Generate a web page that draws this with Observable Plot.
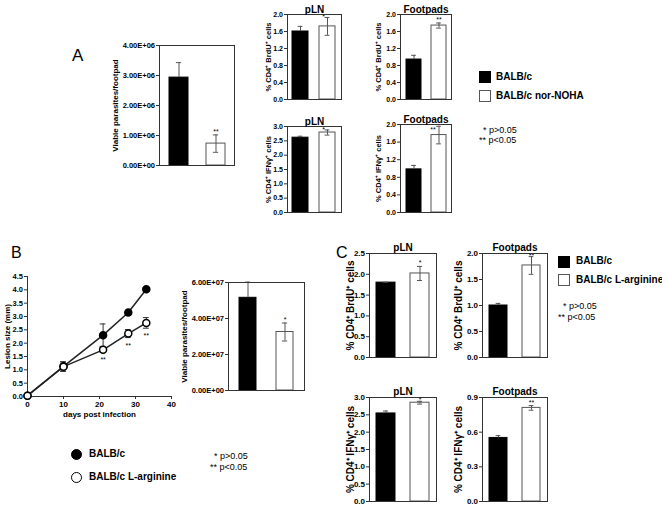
<!DOCTYPE html>
<html><head><meta charset="utf-8">
<script src="https://cdn.jsdelivr.net/npm/d3@7"></script>
<script src="https://cdn.jsdelivr.net/npm/@observablehq/plot@0.6"></script>
<style>
body{margin:0;background:#fff;}
#fig{position:relative;width:662px;height:509px;overflow:hidden;font-family:"Liberation Sans",Arial,Helvetica,sans-serif;color:#000;}
.t{position:absolute;white-space:nowrap;line-height:1;}
.b{font-weight:bold;}
.sw{position:absolute;box-sizing:border-box;}
svg{overflow:visible;}
</style></head><body><div id="fig"></div>
<script>
// ---------- data ----------
const groupsA = ["BALB/c", "BALB/c nor-NOHA"];
const groupsC = ["BALB/c", "BALB/c L-arginine"];
// Panel A
const aParasiteMean = [2.93e6, 0.73e6];
const aParasiteSd = [0.50e6, 0.29e6];
const aParasiteStars = ["", "**"];
const aParasiteTicks = [0, 1e6, 2e6, 3e6, 4e6];
const aBrdUpLNMean = [1.60, 1.72];
const aBrdUpLNSd = [0.12, 0.21];
const aBrdUpLNStars = ["", "*"];
const aBrdUFootMean = [0.94, 1.74];
const aBrdUFootSd = [0.10, 0.06];
const aBrdUFootStars = ["", "**"];
const aBrdUTicks = [0, 0.4, 0.8, 1.2, 1.6, 2.0];
const aIfnpLNMean = [2.61, 2.79];
const aIfnpLNSd = [0.05, 0.09];
const aIfnpLNStars = ["", "*"];
const aIfnpLNTicks = [0, 0.5, 1.0, 1.5, 2.0, 2.5, 3.0];
const aIfnFootMean = [0.98, 1.76];
const aIfnFootSd = [0.09, 0.20];
const aIfnFootStars = ["", "**"];
const aIfnFootTicks = [0, 0.4, 0.8, 1.2, 1.6, 2.0];
// Panel B
const bDays = [0, 10, 21, 28, 33];
const bCtrlMean = [0.03, 1.13, 2.30, 3.15, 4.02];
const bCtrlSd = [0.02, 0.17, 0.42, 0.04, 0.03];
const bArgMean = [0.03, 1.12, 1.75, 2.36, 2.76];
const bArgSd = [0.02, 0.18, 0.10, 0.15, 0.20];
const bArgStars = ["", "", "**", "**", "**"];
const bXTicks = [0, 10, 20, 30, 40];
const bYTicks = [0, 0.5, 1.0, 1.5, 2.0, 2.5, 3.0, 3.5, 4.0, 4.5];
const bParasiteMean = [5.15e7, 3.25e7];
const bParasiteSd = [0.87e7, 0.50e7];
const bParasiteStars = ["", "*"];
const bParasiteTicks = [0, 2e7, 4e7, 6e7];
// Panel C
const cBrdUpLNMean = [1.80, 2.02];
const cBrdUpLNSd = [0.01, 0.17];
const cBrdUpLNStars = ["", "*"];
const cBrdUpLNTicks = [0, 0.5, 1.0, 1.5, 2.0, 2.5];
const cBrdUFootMean = [1.00, 1.77];
const cBrdUFootSd = [0.04, 0.17];
const cBrdUFootStars = ["", "**"];
const cBrdUFootTicks = [0, 0.5, 1.0, 1.5, 2.0];
const cIfnpLNMean = [2.54, 2.85];
const cIfnpLNSd = [0.07, 0.04];
const cIfnpLNStars = ["", "*"];
const cIfnpLNTicks = [0, 0.5, 1.0, 1.5, 2.0, 2.5, 3.0];
const cIfnFootMean = [0.55, 0.81];
const cIfnFootSd = [0.02, 0.02];
const cIfnFootStars = ["", "**"];
const cIfnFootTicks = [0, 0.3, 0.6, 0.9];

// ---------- helpers ----------
const FONT = '"Liberation Sans", Arial, Helvetica, sans-serif';
const fig = document.getElementById("fig");
function place(node, left, top) {
  node.style.position = "absolute";
  node.style.left = left + "px";
  node.style.top = top + "px";
  fig.appendChild(node);
}
function label(text, left, top, size, bold) {
  const d = document.createElement("div");
  d.className = "t" + (bold ? " b" : "");
  d.style.left = left + "px"; d.style.top = top + "px"; d.style.fontSize = size + "px";
  d.textContent = text;
  fig.appendChild(d);
}
function swatch(left, top, w, h, fill, stroke) {
  const d = document.createElement("div");
  d.className = "sw";
  d.style.cssText += `left:${left}px;top:${top}px;width:${w}px;height:${h}px;background:${fill};border:1px solid ${stroke};`;
  fig.appendChild(d);
}
function circle(cx, cy, r, fill) {
  const d = document.createElement("div");
  d.className = "sw";
  d.style.cssText += `left:${cx - r}px;top:${cy - r}px;width:${2 * r}px;height:${2 * r}px;border-radius:50%;background:${fill};border:1px solid #000;`;
  fig.appendChild(d);
}
const sci = v => {
  const [m, e] = v.toExponential(2).split("e");
  const n = Math.abs(+e);
  return m + "E" + (+e < 0 ? "-" : "+") + (n < 10 ? "0" + n : n);
};
const f1 = d3.format(".1f");

function barPanel(c) {
  const mL = 60, mT = 24, mR = 4, mB = 4;
  const data = c.groups.map((g, i) => ({g, m: c.mean[i], lo: c.mean[i] - c.sd[i], hi: c.mean[i] + c.sd[i], s: c.stars[i]}));
  const step = c.w / (2 - c.pin + 2 * c.pout);
  const bw = step * (1 - c.pin);
  const ins = Math.max(0, (bw - c.cap) / 2);
  const err = "#555";
  const marks = [
    Plot.barY([data[0]], {x: "g", y: "m", fill: "black", stroke: "black", strokeWidth: 1}),
    Plot.barY([data[1]], {x: "g", y: "m", fill: "white", stroke: "#555", strokeWidth: 1}),
    Plot.ruleX(data, {x: "g", y1: "m", y2: "hi", stroke: err}),
    Plot.ruleX([data[1]], {x: "g", y1: "lo", y2: "m", stroke: err}),
    Plot.tickY(data, {x: "g", y: "hi", insetLeft: ins, insetRight: ins, stroke: err}),
    Plot.tickY([data[1]], {x: "g", y: "lo", insetLeft: ins, insetRight: ins, stroke: err}),
    Plot.text(data.filter(d => d.s), {x: "g", y: "hi", text: "s", dx: c.starDx || 0, dy: c.starDy ?? -1, lineAnchor: "bottom", fontSize: c.starFont, fontWeight: "normal"}),
    Plot.frame({stroke: "#333"}),
    Plot.axisY({ticks: c.ticks, tickFormat: c.fmt, tickSize: 3, tickPadding: 1.5, fontSize: c.tickFont, fontWeight: "bold", stroke: "#333", label: null}),
    Plot.text([c.ylab], {text: d => d, frameAnchor: "left", rotate: -90, dx: -c.ylabOff, textAnchor: "middle", fontSize: c.ylabFont, fontWeight: "bold"})
  ];
  if (c.title) marks.push(Plot.text([c.title], {text: d => d, frameAnchor: "top", dy: -c.titleGap, lineAnchor: "bottom", fontSize: c.titleFont, fontWeight: "bold"}));
  const p = Plot.plot({
    width: mL + c.w + mR, height: mT + c.h + mB,
    marginLeft: mL, marginTop: mT, marginRight: mR, marginBottom: mB,
    style: {fontFamily: FONT, fontWeight: "bold", fontSize: c.tickFont + "px", background: "transparent", overflow: "visible"},
    x: {type: "band", domain: c.groups, paddingInner: c.pin, paddingOuter: c.pout, axis: null},
    y: {domain: c.domain, axis: null},
    marks
  });
  place(p, c.left - mL, c.top - mT);
}

// ---------- Panel A ----------
label("A", 72, 47, 17, false);
barPanel({left: 159, top: 45, w: 75, h: 120, groups: groupsA, mean: aParasiteMean, sd: aParasiteSd, stars: aParasiteStars,
  domain: [0, 4e6], ticks: aParasiteTicks, fmt: sci, tickFont: 7.5, ylab: "Viable parasites/footpad", ylabOff: 44, ylabFont: 8,
  pin: 0.5, pout: 0.25, cap: 5, starFont: 7});
const aSmall = {w: 54, pin: 0.4, pout: 0.2, cap: 5, tickFont: 7, ylabFont: 7.5, ylabOff: 19, starFont: 7, titleFont: 10, titleGap: 2};
barPanel({...aSmall, left: 287, top: 14, h: 85, groups: groupsA, mean: aBrdUpLNMean, sd: aBrdUpLNSd, stars: aBrdUpLNStars,
  domain: [0, 2], ticks: aBrdUTicks, fmt: f1, ylab: "% CD4⁺ BrdU⁺ cells", title: "pLN", starDx: -4, starDy: 2});
barPanel({...aSmall, w: 51, left: 400, top: 14, h: 85, groups: groupsA, mean: aBrdUFootMean, sd: aBrdUFootSd, stars: aBrdUFootStars,
  domain: [0, 2], ticks: aBrdUTicks, fmt: f1, ylab: "% CD4⁺ BrdU⁺ cells", title: "Footpads", ylabOff: 22});
barPanel({...aSmall, left: 287, top: 126, h: 86, groups: groupsA, mean: aIfnpLNMean, sd: aIfnpLNSd, stars: aIfnpLNStars,
  domain: [0, 3], ticks: aIfnpLNTicks, fmt: f1, ylab: "% CD4⁺ IFNγ⁺ cells", title: "pLN", starDx: -4, starDy: 2});
barPanel({...aSmall, w: 51, left: 400, top: 124, h: 88, groups: groupsA, mean: aIfnFootMean, sd: aIfnFootSd, stars: aIfnFootStars,
  domain: [0, 2], ticks: aIfnFootTicks, fmt: f1, ylab: "% CD4⁺ IFNγ⁺ cells", title: "Footpads", ylabOff: 22, starDx: -6, starDy: 6});
// legend A
swatch(479, 71, 12, 12, "#000", "#000");
label("BALB/c", 496, 72, 10, true);
swatch(479, 90, 12, 12, "#fff", "#555");
label("BALB/c nor-NOHA", 496, 91, 10, true);
label("* p>0.05", 483, 126, 9, false);
label("** p<0.05", 479, 136, 9, false);

// ---------- Panel B ----------
label("B", 11, 245, 16, false);
(function () {
  const mL = 40, mT = 10, mR = 10, mB = 30, w = 144, h = 120;
  const ctrl = bDays.map((d, i) => ({day: d, m: bCtrlMean[i], lo: bCtrlMean[i] - bCtrlSd[i], hi: bCtrlMean[i] + bCtrlSd[i]}));
  const arg = bDays.map((d, i) => ({day: d, m: bArgMean[i], lo: bArgMean[i] - bArgSd[i], hi: bArgMean[i] + bArgSd[i], s: bArgStars[i]}));
  const cap = 0.8;
  const p = Plot.plot({
    width: mL + w + mR, height: mT + h + mB, marginLeft: mL, marginTop: mT, marginRight: mR, marginBottom: mB,
    style: {fontFamily: FONT, fontWeight: "bold", fontSize: "8px", background: "transparent", overflow: "visible"},
    x: {domain: [0, 40], axis: null}, y: {domain: [0, 4.5], axis: null},
    marks: [
      Plot.ruleY([0], {stroke: "#333"}),
      Plot.ruleX([0], {stroke: "#333"}),
      Plot.axisX({ticks: bXTicks, tickSize: 3, tickPadding: 2, fontSize: 8, fontWeight: "bold", stroke: "#333", label: null}),
      Plot.axisY({ticks: bYTicks, tickFormat: f1, tickSize: 3, tickPadding: 1.5, fontSize: 7.5, fontWeight: "bold", stroke: "#333", label: null}),
      Plot.line(ctrl, {x: "day", y: "m", stroke: "#222"}),
      Plot.line(arg, {x: "day", y: "m", stroke: "#222"}),
      Plot.ruleX(ctrl, {x: "day", y1: "lo", y2: "hi", stroke: "#333"}),
      Plot.ruleX(arg, {x: "day", y1: "lo", y2: "hi", stroke: "#333"}),
      Plot.ruleY(ctrl, {y: "hi", x1: d => d.day - cap, x2: d => d.day + cap, stroke: "#333"}),
      Plot.ruleY(ctrl, {y: "lo", x1: d => d.day - cap, x2: d => d.day + cap, stroke: "#333"}),
      Plot.ruleY(arg, {y: "hi", x1: d => d.day - cap, x2: d => d.day + cap, stroke: "#333"}),
      Plot.ruleY(arg, {y: "lo", x1: d => d.day - cap, x2: d => d.day + cap, stroke: "#333"}),
      Plot.dot(ctrl, {x: "day", y: "m", r: 3.5, fill: "black", stroke: "black"}),
      Plot.dot(arg, {x: "day", y: "m", r: 3.5, fill: "white", stroke: "black"}),
      Plot.text(arg.filter(d => d.s), {x: "day", y: "lo", text: "s", dy: 5, lineAnchor: "top", fontSize: 7, fontWeight: "normal"}),
      Plot.text(["days post infection"], {text: d => d, frameAnchor: "bottom", dy: 20, fontSize: 8, fontWeight: "bold"}),
      Plot.text(["Lesion size (mm)"], {text: d => d, frameAnchor: "left", rotate: -90, dx: -20, textAnchor: "middle", fontSize: 8, fontWeight: "bold"})
    ]
  });
  place(p, 27 - mL, 276 - mT);
})();
barPanel({left: 228, top: 282, w: 76, h: 108, groups: groupsC, mean: bParasiteMean, sd: bParasiteSd, stars: bParasiteStars,
  domain: [0, 6e7], ticks: bParasiteTicks, fmt: sci, tickFont: 7.5, ylab: "Viable parasites/footpad", ylabOff: 44, ylabFont: 8,
  pin: 0.55, pout: 0.3, cap: 5, starFont: 7});
// legend B
circle(76, 454, 5.5, "#000");
label("BALB/c", 89, 449, 10, true);
circle(76, 477, 5.5, "#fff");
label("BALB/c L-arginine", 89, 472, 10, true);
label("* p>0.05", 214, 452, 9, false);
label("** p<0.05", 210, 463, 9, false);

// ---------- Panel C ----------
label("C", 336, 245, 16, false);
const cBase = {pin: 0.45, pout: 0.2, cap: 5, tickFont: 8, ylabFont: 10, starFont: 7, titleFont: 10, titleGap: 3};
barPanel({...cBase, left: 369, top: 253, w: 67, h: 104, groups: groupsC, mean: cBrdUpLNMean, sd: cBrdUpLNSd, stars: cBrdUpLNStars,
  domain: [0, 2.5], ticks: cBrdUpLNTicks, fmt: f1, ylab: "% CD4⁺ BrdU⁺ cells", ylabOff: 19, title: "pLN"});
barPanel({...cBase, left: 482, top: 253, w: 65, h: 104, groups: groupsC, mean: cBrdUFootMean, sd: cBrdUFootSd, stars: cBrdUFootStars,
  domain: [0, 2], ticks: cBrdUFootTicks, fmt: f1, ylab: "% CD4⁺ BrdU⁺ cells", ylabOff: 24, title: "Footpads", starDy: 1});
barPanel({...cBase, left: 369, top: 397, w: 67, h: 104, groups: groupsC, mean: cIfnpLNMean, sd: cIfnpLNSd, stars: cIfnpLNStars,
  domain: [0, 3], ticks: cIfnpLNTicks, fmt: f1, ylab: "% CD4⁺ IFNγ⁺ cells", ylabOff: 19, title: "pLN", starDy: 1});
barPanel({...cBase, left: 482, top: 397, w: 65, h: 104, groups: groupsC, mean: cIfnFootMean, sd: cIfnFootSd, stars: cIfnFootStars,
  domain: [0, 0.9], ticks: cIfnFootTicks, fmt: f1, ylab: "% CD4⁺ IFNγ⁺ cells", ylabOff: 24, title: "Footpads"});
// legend C
swatch(558, 256, 12, 12, "#000", "#000");
label("BALB/c", 576, 256, 10, true);
swatch(558, 274, 12, 12, "#fff", "#555");
label("BALB/c L-arginine", 576, 275, 10, true);
label("* p>0.05", 563, 302, 9, false);
label("** p<0.05", 558, 313, 9, false);
</script></body></html>
